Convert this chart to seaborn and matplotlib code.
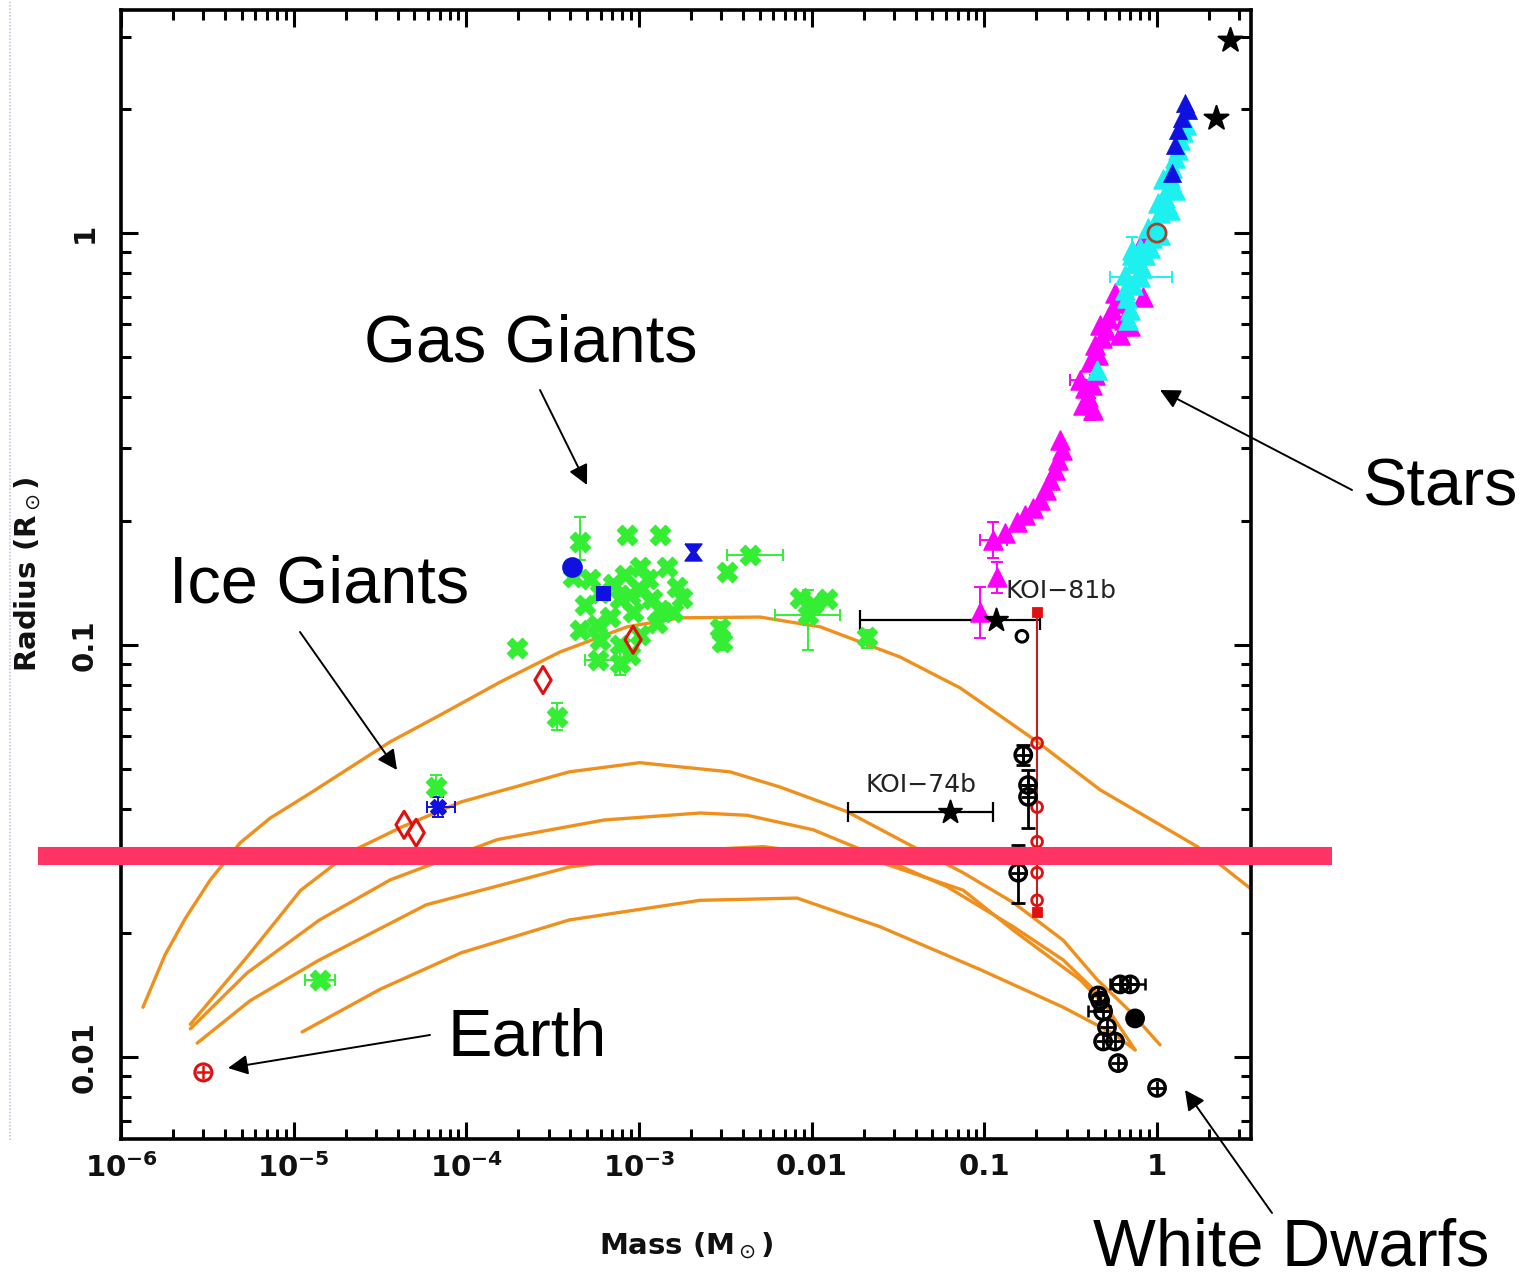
import numpy as np
import matplotlib
matplotlib.use("Agg")
import matplotlib.pyplot as plt
from matplotlib.lines import Line2D
from matplotlib.ticker import LogLocator, NullFormatter
import seaborn as sns

# ---------------- model mass-radius curves (M_sun, R_sun) ----------------
hhe_mass = [1.34e-6, 1.80e-6, 2.36e-6, 3.29e-6, 4.90e-6, 7.31e-6, 1.26e-5, 3.62e-5, 7.05e-5,
            1.57e-4, 3.49e-4, 8.53e-4, 1.73e-3, 5.02e-3, 0.0112, 0.0325, 0.0723, 0.197,
            0.468, 1.71, 3.45]
hhe_radius = [0.0132, 0.0177, 0.0217, 0.0269, 0.0331, 0.0380, 0.0438, 0.0582, 0.0676,
              0.0813, 0.0962, 0.1107, 0.1164, 0.1169, 0.1107, 0.0935, 0.0787, 0.0587,
              0.0445, 0.0324, 0.0257]

ice_mass = [2.52e-6, 5.38e-6, 1.10e-5, 2.15e-5, 4.19e-5, 9.33e-5, 3.94e-4, 1.01e-3, 1.73e-3,
            3.37e-3, 6.56e-3, 0.0160, 0.0386, 0.0753, 0.147, 0.286, 0.450, 0.698, 1.04]
ice_radius = [0.0120, 0.0175, 0.0254, 0.0315, 0.0361, 0.0416, 0.0492, 0.0518, 0.0506,
              0.0492, 0.0452, 0.0394, 0.0324, 0.0280, 0.0237, 0.0192, 0.0154, 0.0129, 0.0107]

rock_mass = [2.52e-6, 5.38e-6, 1.41e-5, 3.62e-5, 1.51e-4, 6.28e-4, 2.26e-3, 4.23e-3,
             0.0102, 0.0249, 0.0608, 0.147, 0.286, 0.450, 0.746]
rock_radius = [0.0117, 0.0160, 0.0215, 0.0269, 0.0337, 0.0376, 0.0391, 0.0386,
               0.0356, 0.0305, 0.0259, 0.0207, 0.0172, 0.0143, 0.0104]

silicate_mass = [2.76e-6, 5.60e-6, 1.41e-5, 5.85e-5, 3.94e-4, 2.26e-3, 5.24e-3, 0.0249,
                 0.0753, 0.147, 0.358, 0.468]
silicate_radius = [0.0108, 0.0137, 0.0172, 0.0234, 0.0289, 0.0318, 0.0324, 0.0297,
                   0.0254, 0.0203, 0.0154, 0.0137]

iron_mass = [1.12e-5, 3.17e-5, 9.33e-5, 3.94e-4, 2.26e-3, 8.22e-3, 0.0249, 0.0944,
             0.286, 0.556, 0.746]
iron_radius = [0.0115, 0.0146, 0.0179, 0.0215, 0.0240, 0.0243, 0.0207, 0.0163,
               0.0132, 0.0114, 0.0104]

# ---------------- transiting giant planets ----------------
planet_mass = [4.56e-4, 8.53e-4, 1.32e-3, 4.15e-4, 5.21e-4, 4.88e-4, 5.95e-4, 7.08e-4,
               8.31e-4, 1.01e-3, 1.01e-3, 9.24e-4, 1.19e-3, 1.46e-3, 1.66e-3, 1.78e-3,
               1.57e-3, 1.27e-3, 4.56e-4, 5.71e-4, 7.78e-4, 8.87e-4, 5.80e-4, 7.78e-4,
               1.97e-4, 2.95e-3, 3.03e-3, 3.24e-3, 4.40e-3, 8.57e-3, 0.0102, 0.0123,
               9.53e-3, 0.0209, 3.36e-4, 6.68e-5, 1.42e-5, 7.78e-4, 6.81e-4, 1.13e-3,
               8.87e-4, 1.32e-3, 5.95e-4, 1.01e-3]
planet_radius = [0.178, 0.185, 0.185, 0.146, 0.145, 0.125, 0.134, 0.141,
                 0.148, 0.155, 0.136, 0.120, 0.129, 0.155, 0.138, 0.130,
                 0.120, 0.113, 0.109, 0.112, 0.100, 0.0946, 0.0920, 0.0904,
                 0.0984, 0.110, 0.1017, 0.150, 0.165, 0.130, 0.126, 0.129,
                 0.118, 0.1045, 0.0669, 0.0452, 0.0154, 0.129, 0.117, 0.145,
                 0.132, 0.1216, 0.103, 0.106]

# vertical error bars: mass, radius, low, high
planet_yerr_mass = [4.56e-4, 7.78e-4, 3.03e-3, 9.53e-3, 0.0209, 3.36e-4, 6.68e-5]
planet_yerr_radius = [0.178, 0.0904, 0.1017, 0.118, 0.1045, 0.0669, 0.0452]
planet_yerr_lo = [0.161, 0.0846, 0.0972, 0.0972, 0.0984, 0.0622, 0.0428]
planet_yerr_hi = [0.205, 0.103, 0.1137, 0.136, 0.109, 0.0723, 0.0484]
# horizontal error bars: mass, radius, low, high
planet_xerr_mass = [5.80e-4, 4.40e-3, 9.53e-3, 1.42e-5]
planet_xerr_radius = [0.0920, 0.165, 0.118, 0.0154]
planet_xerr_lo = [4.88e-4, 3.24e-3, 6.14e-3, 1.17e-5]
planet_xerr_hi = [7.27e-4, 6.83e-3, 0.0146, 1.74e-5]

# solar-system planets (open diamonds)
solar_mass = [4.36e-5, 5.12e-5, 2.78e-4, 9.24e-4]
solar_radius = [0.0366, 0.0350, 0.0822, 0.103]

# other planets (blue)
blue_mass = [4.10e-4, 6.19e-4, 2.06e-3, 6.87e-5]
blue_radius = [0.155, 0.134, 0.168, 0.0404]

earth_mass, earth_radius = 3.0e-6, 0.00917
sun_mass, sun_radius = 1.0, 1.0

# ---------------- low-mass stars ----------------
mdwarf_mass = [0.0944, 0.118, 0.112, 0.132, 0.155, 0.172, 0.191, 0.210, 0.228, 0.240,
               0.257, 0.267, 0.282, 0.274, 0.373, 0.398, 0.383, 0.420, 0.438, 0.409,
               0.455, 0.438, 0.480, 0.468, 0.520, 0.549, 0.587, 0.571, 0.644, 0.698,
               0.611, 0.507, 0.830, 0.830, 0.426, 0.358]
mdwarf_radius = [0.120, 0.146, 0.180, 0.187, 0.199, 0.207, 0.215, 0.225, 0.238, 0.251,
                 0.266, 0.281, 0.297, 0.315, 0.383, 0.400, 0.421, 0.428, 0.452, 0.486,
                 0.506, 0.535, 0.556, 0.598, 0.622, 0.650, 0.676, 0.715, 0.615, 0.595,
                 0.565, 0.582, 0.699, 0.962, 0.372, 0.440]

ebstar_mass = [0.450, 0.670, 0.726, 0.776, 0.746, 0.819, 0.853, 0.911, 0.798, 0.936,
               1.04, 0.887, 0.974, 1.04, 1.01, 1.11, 1.16, 1.08, 1.19, 1.22,
               1.27, 1.32, 1.36, 1.41, 1.47, 0.698, 0.679, 0.653, 0.653, 0.716,
               1.19, 1.27, 0.798, 0.716]
ebstar_radius = [0.465, 0.695, 0.748, 0.791, 0.851, 0.822, 0.885, 0.920, 0.920, 0.972,
                 0.989, 1.03, 1.06, 1.12, 1.18, 1.22, 1.29, 1.35, 1.36, 1.44,
                 1.52, 1.59, 1.68, 1.76, 1.83, 0.650, 0.615, 0.727, 0.791, 0.909,
                 1.14, 1.27, 0.782, 0.885]

bstar_mass = [1.45, 1.51, 1.40, 1.32, 1.27, 1.22]
bstar_radius = [2.07, 1.99, 1.90, 1.78, 1.64, 1.40]

mdwarf_yerr_mass = [0.0944, 0.118, 0.112, 0.409]
mdwarf_yerr_radius = [0.120, 0.146, 0.180, 0.372]
mdwarf_yerr_lo = [0.104, 0.134, 0.163, 0.352]
mdwarf_yerr_hi = [0.138, 0.159, 0.199, 0.398]
mdwarf_xerr_mass = [0.112, 0.358]
mdwarf_xerr_radius = [0.180, 0.440]
mdwarf_xerr_lo = [0.0944, 0.313]
mdwarf_xerr_hi = [0.135, 0.409]

ebstar_err_mass = [0.798, 0.716]
ebstar_err_radius = [0.782, 0.885]
ebstar_xerr_lo, ebstar_xerr_hi = [0.535, 0.716], [1.22, 0.716]
ebstar_yerr_lo, ebstar_yerr_hi = [0.782, 0.800], [0.782, 0.978]

# large stars
bigstar_mass = [2.20, 2.65]
bigstar_radius = [1.90, 2.94]

# KOI companions
koi_names = ["KOI\u221281b", "KOI\u221274b"]
koi_mass = [0.117, 0.0633]
koi_radius = [0.115, 0.0394]
koi_mass_lo = [0.0191, 0.0162]
koi_mass_hi = [0.210, 0.112]
koi_label_mass = [0.132, 0.0204]
koi_label_radius = [0.130, 0.0440]

ring_mass, ring_radius = 0.165, 0.105

# hot white-dwarf / sdB companions (red, connected)
sdb_mass = 0.202
sdb_radius = [0.120, 0.0578, 0.0404, 0.0333, 0.0280, 0.0240, 0.0225]

# low-mass companions (black)
lm_mass = [0.168, 0.179, 0.179, 0.157]
lm_radius = [0.0541, 0.0457, 0.0428, 0.0280]
lm_err_lo = [0.0511, 0.0457, 0.0360, 0.0237]
lm_err_hi = [0.0572, 0.0457, 0.0497, 0.0327]

# white dwarfs
wd_mass = [0.611, 0.698, 0.746, 0.468, 0.487, 0.513, 0.487, 0.571, 0.594, 1.0, 0.455]
wd_radius = [0.0150, 0.0150, 0.0124, 0.0137, 0.0129, 0.0118, 0.0109, 0.0109, 0.00966,
             0.00841, 0.0141]
wd_xerr_mass = [0.611, 0.487]
wd_xerr_radius = [0.0150, 0.0129]
wd_xerr_lo = [0.535, 0.398]
wd_xerr_hi = [0.853, 0.535]

threshold_radius = 0.0308

# ---------------- styling ----------------
ORANGE = "#F0901C"
GREEN = "#33EE33"
MAGENTA = "#FF00FF"
CYAN = "#1EF0F0"
BLUE = "#1010E0"
RED = "#E01010"
DARKRED = "#C41E1E"
PINK = "#FF3464"

sns.set_theme(style="ticks")
plt.rcParams["font.family"] = ["DejaVu Sans"]
plt.rcParams["mathtext.fontset"] = "dejavusans"

W, H = 1536, 1281
fig = plt.figure(figsize=(W / 100, H / 100), dpi=100)
fig.patch.set_facecolor("white")
ax = fig.add_axes([121 / W, 1 - 1139 / H, 1130 / W, 1129 / H])
ax.set_facecolor("white")
ax.set_xscale("log")
ax.set_yscale("log")


def errbars(x, y, lo, hi, axis, color, lw=1.4, cap=4):
    x = np.asarray(x, float)
    y = np.asarray(y, float)
    lo = np.asarray(lo, float)
    hi = np.asarray(hi, float)
    if axis == "y":
        ax.errorbar(x, y, yerr=[y - lo, hi - y], fmt="none", ecolor=color,
                    elinewidth=lw, capsize=cap, capthick=lw, zorder=3)
    else:
        ax.errorbar(x, y, xerr=[x - lo, hi - x], fmt="none", ecolor=color,
                    elinewidth=lw, capsize=cap, capthick=lw, zorder=3)


# model curves
for m, r in [(hhe_mass, hhe_radius), (ice_mass, ice_radius), (rock_mass, rock_radius),
             (silicate_mass, silicate_radius), (iron_mass, iron_radius)]:
    sns.lineplot(x=m, y=r, sort=False, estimator=None, color=ORANGE, lw=2.4, ax=ax,
                 zorder=2)

# planets
errbars(planet_yerr_mass, planet_yerr_radius, planet_yerr_lo, planet_yerr_hi, "y", GREEN)
errbars(planet_xerr_mass, planet_xerr_radius, planet_xerr_lo, planet_xerr_hi, "x", GREEN)
sns.scatterplot(x=planet_mass, y=planet_radius, marker="X", s=210, color=GREEN,
                edgecolor=GREEN, linewidth=1.0, ax=ax, zorder=4)
errbars([6.87e-5], [0.0404], [5.93e-5], [8.61e-5], "x", BLUE)
errbars([6.87e-5], [0.0404], [0.0383], [0.0428], "y", BLUE)
hourglass = [(-1, 1), (1, 1), (0.25, 0), (1, -1), (-1, -1), (-0.25, 0), (-1, 1)]
sns.scatterplot(x=blue_mass[:1], y=blue_radius[:1], marker="o", s=190, color=BLUE,
                edgecolor=BLUE, ax=ax, zorder=5)
sns.scatterplot(x=blue_mass[1:2], y=blue_radius[1:2], marker="s", s=90, color=BLUE,
                edgecolor=BLUE, ax=ax, zorder=5)
sns.scatterplot(x=blue_mass[2:3], y=blue_radius[2:3], marker=hourglass, s=150,
                color=BLUE, edgecolor=BLUE, ax=ax, zorder=5)
sns.scatterplot(x=blue_mass[3:], y=blue_radius[3:], marker="X", s=130, color=BLUE,
                edgecolor=BLUE, ax=ax, zorder=5)
sns.scatterplot(x=solar_mass, y=solar_radius, marker="d", s=190, facecolor="none",
                edgecolor=RED, linewidth=2.2, ax=ax, zorder=5)

# Earth and Sun
sns.scatterplot(x=[earth_mass], y=[earth_radius], marker="o", s=150, facecolor="none",
                edgecolor=RED, linewidth=2.2, ax=ax, zorder=5)
sns.scatterplot(x=[earth_mass], y=[earth_radius], marker="+", s=90, color=RED,
                linewidth=1.8, ax=ax, zorder=5)

# stars
errbars(mdwarf_yerr_mass, mdwarf_yerr_radius, mdwarf_yerr_lo, mdwarf_yerr_hi, "y", MAGENTA)
errbars(mdwarf_xerr_mass, mdwarf_xerr_radius, mdwarf_xerr_lo, mdwarf_xerr_hi, "x", MAGENTA)
sns.scatterplot(x=mdwarf_mass, y=mdwarf_radius, marker="^", s=190, color=MAGENTA,
                edgecolor=MAGENTA, linewidth=1.0, ax=ax, zorder=4)
errbars(ebstar_err_mass[:1], ebstar_err_radius[:1], ebstar_xerr_lo[:1],
        ebstar_xerr_hi[:1], "x", CYAN)
errbars(ebstar_err_mass[1:], ebstar_err_radius[1:], ebstar_yerr_lo[1:],
        ebstar_yerr_hi[1:], "y", CYAN)
sns.scatterplot(x=ebstar_mass, y=ebstar_radius, marker="^", s=190, color=CYAN,
                edgecolor=CYAN, linewidth=1.0, ax=ax, zorder=4)
sns.scatterplot(x=bstar_mass, y=bstar_radius, marker="^", s=170, color=BLUE,
                edgecolor=BLUE, linewidth=0.5, ax=ax, zorder=5)
sns.scatterplot(x=[sun_mass], y=[sun_radius], marker="o", s=170, facecolor="none",
                edgecolor="#A8442E", linewidth=2, ax=ax, zorder=6)
sns.scatterplot(x=bigstar_mass, y=bigstar_radius, marker="*", s=330, color="black",
                edgecolor="black", ax=ax, zorder=6)

# KOI companions
errbars(koi_mass, koi_radius, koi_mass_lo, koi_mass_hi, "x", "black", lw=1.6, cap=7)
sns.scatterplot(x=koi_mass, y=koi_radius, marker="*", s=300, color="black",
                edgecolor="black", ax=ax, zorder=6)
for name, mx, ry in zip(koi_names, koi_label_mass, koi_label_radius):
    ax.text(mx, ry, name, fontsize=18, ha="left", va="baseline", color="#222222")
sns.scatterplot(x=[ring_mass], y=[ring_radius], marker="o", s=70, facecolor="none",
                edgecolor="black", linewidth=2.2, ax=ax, zorder=6)

# red companions on a vertical track
sns.lineplot(x=[sdb_mass] * len(sdb_radius), y=sdb_radius, sort=False, estimator=None,
             color=DARKRED, lw=1.5, ax=ax, zorder=5)
sns.scatterplot(x=[sdb_mass] * 5, y=sdb_radius[1:6], marker="o", s=60, facecolor="none",
                edgecolor=RED, linewidth=2, ax=ax, zorder=6)
sns.scatterplot(x=[sdb_mass, sdb_mass], y=[sdb_radius[0], sdb_radius[6]], marker="s",
                s=55, color=RED, edgecolor=RED, ax=ax, zorder=6)

# black low-mass companions
errbars(lm_mass, lm_radius, lm_err_lo, lm_err_hi, "y", "black", lw=2, cap=5)
sns.scatterplot(x=lm_mass, y=lm_radius, marker="o", s=140, facecolor="none",
                edgecolor="black", linewidth=2.4, ax=ax, zorder=6)
sns.scatterplot(x=lm_mass, y=lm_radius, marker="+", s=100, color="black",
                linewidth=2.0, ax=ax, zorder=6)

# white dwarfs
errbars(wd_xerr_mass, wd_xerr_radius, wd_xerr_lo, wd_xerr_hi, "x", "black", lw=1.8, cap=4)
sns.scatterplot(x=wd_mass, y=wd_radius, marker="o", s=140, facecolor="none",
                edgecolor="black", linewidth=2.4, ax=ax, zorder=3)
sns.scatterplot(x=wd_mass, y=wd_radius, marker="+", s=100, color="black",
                linewidth=2.0, ax=ax, zorder=3)
sns.scatterplot(x=[wd_mass[2]], y=[wd_radius[2]], marker="o", s=110, color="black",
                edgecolor="black", ax=ax, zorder=3)

# horizontal marker band across the figure
ax.plot([-0.0735, 1.0717], [threshold_radius, threshold_radius],
        transform=ax.get_yaxis_transform(), clip_on=False, color=PINK, lw=13,
        solid_capstyle="butt", zorder=20)

# ---------------- axes ----------------
ax.set_xlim(1e-6, 3.5)
ax.set_ylim(0.00632, 3.48)
x_ticks = [1e-6, 1e-5, 1e-4, 1e-3, 0.01, 0.1, 1]
x_labels = [r"$\mathbf{10^{-6}}$", r"$\mathbf{10^{-5}}$", r"$\mathbf{10^{-4}}$",
            r"$\mathbf{10^{-3}}$", "0.01", "0.1", "1"]
y_ticks = [0.01, 0.1, 1]
y_labels = ["0.01", "0.1", "1"]
ax.set_xticks(x_ticks, x_labels)
ax.set_yticks(y_ticks, y_labels)
for axis in (ax.xaxis, ax.yaxis):
    axis.set_minor_locator(LogLocator(base=10, subs=np.arange(2, 10), numticks=30))
    axis.set_minor_formatter(NullFormatter())
ax.tick_params(which="both", direction="in", top=True, right=True, color="black")
ax.tick_params(which="major", length=12, width=2.2)
ax.tick_params(which="minor", length=7, width=2.2)
ax.tick_params(axis="x", labelsize=21, pad=10)
ax.tick_params(axis="y", labelsize=21, pad=16, labelrotation=90)
for lbl in ax.get_xticklabels() + ax.get_yticklabels():
    lbl.set_fontweight("bold")
    lbl.set_color("#111111")
for lbl in ax.get_yticklabels():
    lbl.set_va("center")
for sp in ax.spines.values():
    sp.set_linewidth(2.6)
    sp.set_color("black")
ax.set_xlabel(r"Mass (M$_\odot$)", fontsize=21, fontweight="bold", labelpad=34,
              color="#111111")
ax.set_ylabel(r"Radius (R$_\odot$)", fontsize=21, fontweight="bold", labelpad=20,
              color="#111111")

# ---------------- callouts ----------------
callouts = [
    ("Gas Giants", (531, 362), (540, 390), (587, 485)),
    ("Ice Giants", (319, 602), (300, 632), (397, 770)),
    ("Stars", (1440, 506), (1352, 490), (1160, 390)),
    ("Earth", (527, 1056), (430, 1035), (228, 1068)),
    ("White Dwarfs", (1291, 1266), (1272, 1213), (1185, 1090)),
]
for text, (tx, ty), (sx, sy), (hx, hy) in callouts:
    fig.text(tx / W, 1 - ty / H, text, ha="center", va="baseline", fontsize=48,
             family="Liberation Sans", color="black")
    ax.annotate("", xy=(hx, H - hy), xycoords="figure pixels",
                xytext=(sx, H - sy), textcoords="figure pixels",
                arrowprops=dict(arrowstyle="-|>", color="black", lw=1.4,
                                mutation_scale=30, shrinkA=0, shrinkB=0),
                annotation_clip=False)

fig.add_artist(Line2D([10 / W, 10 / W], [1 - 1140 / H, 1.0], transform=fig.transFigure,
                      color="#C6C6E4", lw=1.2, ls=(0, (1, 1))))

fig.savefig("out.png", dpi=100, facecolor="white")
